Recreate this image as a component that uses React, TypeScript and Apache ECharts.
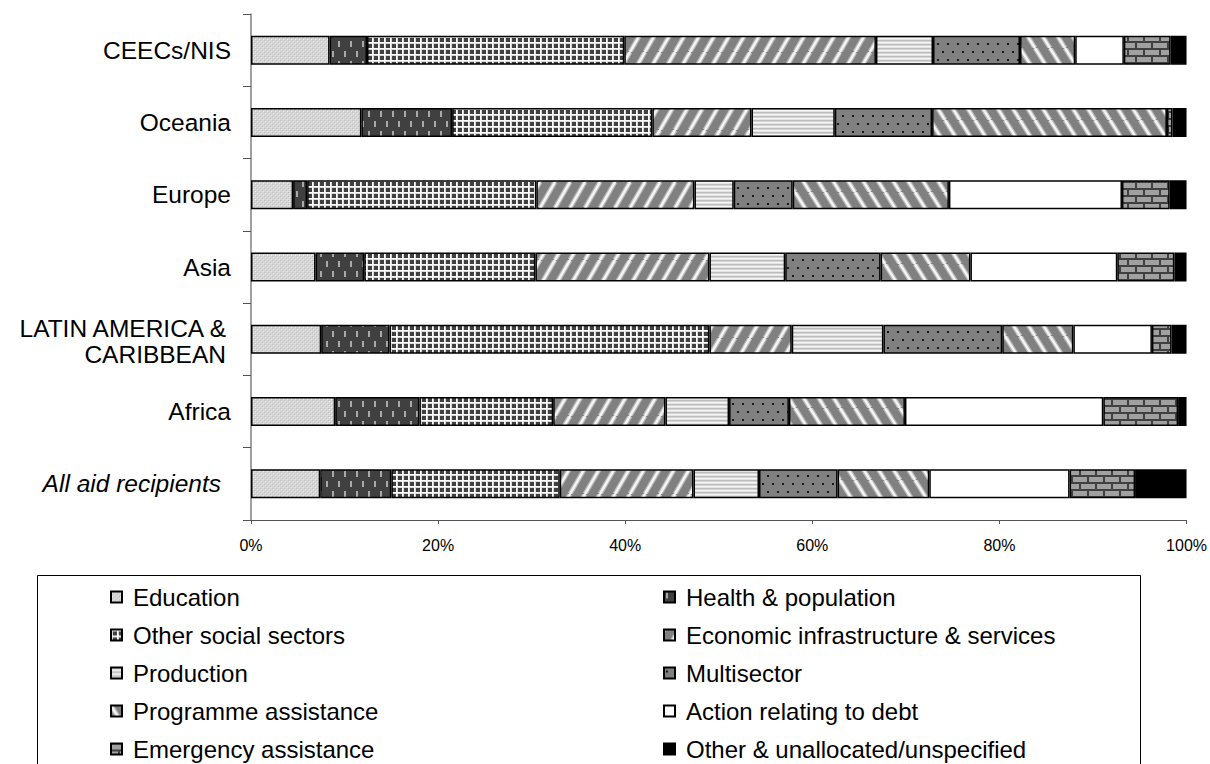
import React, { useEffect, useRef } from "react";
import * as echarts from "echarts";

const regions = [
  "CEECs/NIS",
  "Oceania",
  "Europe",
  "Asia",
  "LATIN AMERICA &\nCARIBBEAN",
  "Africa",
  "All aid recipients",
];

const education = [8.4, 11.8, 4.5, 6.9, 7.5, 9.0, 7.4];
const health = [4.0, 9.7, 1.5, 5.2, 7.3, 9.0, 7.6];
const otherSocial = [27.5, 21.4, 24.5, 18.3, 34.2, 14.3, 18.0];
const economic = [26.9, 10.6, 16.9, 18.6, 8.8, 12.0, 14.3];
const production = [6.1, 8.9, 4.2, 8.1, 9.8, 6.8, 7.0];
const multisector = [9.3, 10.4, 6.3, 10.2, 12.7, 6.4, 8.4];
const programme = [5.9, 25.1, 16.7, 9.6, 7.6, 12.4, 9.8];
const debt = [5.2, 0, 18.5, 15.7, 8.4, 21.2, 15.0];
const emergency = [5.0, 0.6, 5.1, 6.1, 2.1, 8.0, 7.0];
const otherUnalloc = [1.7, 1.5, 1.8, 1.3, 1.6, 0.9, 5.5];

const xTicks = [0, 20, 40, 60, 80, 100];

const legendCol1 = [
  "Education",
  "Other social sectors",
  "Production",
  "Programme assistance",
  "Emergency assistance",
];
const legendCol2 = [
  "Health & population",
  "Economic infrastructure & services",
  "Multisector",
  "Action relating to debt",
  "Other & unallocated/unspecified",
];

const FONT = "'Liberation Sans', Arial, sans-serif";

function tile(w: number, h: number, draw: (ctx: CanvasRenderingContext2D) => void) {
  const c = document.createElement("canvas");
  c.width = w;
  c.height = h;
  const ctx = c.getContext("2d") as CanvasRenderingContext2D;
  draw(ctx);
  return c;
}

function stripes(w: number, h: number, forward: boolean) {
  return tile(w, h, (ctx) => {
    ctx.fillStyle = "#808080";
    ctx.fillRect(0, 0, w, h);
    const drawLines = (color: string, lw: number) => {
      ctx.strokeStyle = color;
      ctx.lineWidth = lw;
      for (let k = -1; k <= 1; k++) {
        ctx.beginPath();
        if (forward) {
          ctx.moveTo(k * w, h);
          ctx.lineTo(k * w + w, 0);
        } else {
          ctx.moveTo(k * w, 0);
          ctx.lineTo(k * w + w, h);
        }
        ctx.stroke();
      }
    };
    drawLines("#b8b8b8", 5);
    drawLines("#f4f4f4", 2.5);
  });
}

function makePatterns() {
  const edu = tile(4, 4, (ctx) => {
    ctx.fillStyle = "#d6d6d6";
    ctx.fillRect(0, 0, 4, 4);
    ctx.fillStyle = "#bababa";
    ctx.fillRect(0, 0, 1, 1);
    ctx.fillRect(2, 2, 1, 1);
    ctx.fillStyle = "#ececec";
    ctx.fillRect(1, 1, 1, 1);
    ctx.fillRect(3, 3, 1, 1);
  });
  const hea = tile(12, 20, (ctx) => {
    ctx.fillStyle = "#404040";
    ctx.fillRect(0, 0, 12, 20);
    ctx.fillStyle = "#a8a8a8";
    ctx.fillRect(2, 1, 2, 6);
    ctx.fillRect(8, 11, 2, 6);
  });
  const oss = tile(6, 6, (ctx) => {
    ctx.fillStyle = "#404040";
    ctx.fillRect(0, 0, 6, 6);
    ctx.fillStyle = "#d8d8d8";
    ctx.fillRect(0, 1, 6, 1);
    ctx.fillRect(1, 0, 1, 6);
    ctx.fillStyle = "#ffffff";
    ctx.fillRect(0, 0, 6, 1);
    ctx.fillRect(0, 0, 1, 6);
  });
  const eco = stripes(15, 26, true);
  const pro = tile(4, 4, (ctx) => {
    ctx.fillStyle = "#bdbdbd";
    ctx.fillRect(0, 0, 4, 1);
    ctx.fillStyle = "#d2d2d2";
    ctx.fillRect(0, 1, 4, 1);
    ctx.fillStyle = "#f6f6f6";
    ctx.fillRect(0, 2, 4, 1);
    ctx.fillStyle = "#e4e4e4";
    ctx.fillRect(0, 3, 4, 1);
  });
  const mul = tile(10, 16, (ctx) => {
    ctx.fillStyle = "#808080";
    ctx.fillRect(0, 0, 10, 16);
    ctx.fillStyle = "#1a1a1a";
    ctx.fillRect(2, 3, 2, 2);
    ctx.fillRect(7, 11, 2, 2);
  });
  const prg = stripes(15, 24, false);
  const emg = tile(16, 14, (ctx) => {
    ctx.fillStyle = "#404040";
    ctx.fillRect(0, 0, 16, 14);
    ctx.fillStyle = "#a0a0a0";
    ctx.fillRect(1, 1, 14, 5);
    ctx.fillRect(-7, 8, 14, 5);
    ctx.fillRect(9, 8, 14, 5);
  });
  const pat = (c: HTMLCanvasElement) => ({ image: c, repeat: "repeat" });
  return {
    edu: pat(edu),
    hea: pat(hea),
    oss: pat(oss),
    eco: pat(eco),
    pro: pat(pro),
    mul: pat(mul),
    prg: pat(prg),
    emg: pat(emg),
  };
}

export default function App() {
  const ref = useRef<HTMLDivElement>(null);

  useEffect(() => {
    if (!ref.current) return;
    const chart = echarts.init(ref.current, null, { renderer: "svg" });
    const p = makePatterns();

    const sectors: { name: string; values: number[]; color: any }[] = [
      { name: "Education", values: education, color: p.edu },
      { name: "Health & population", values: health, color: p.hea },
      { name: "Other social sectors", values: otherSocial, color: p.oss },
      { name: "Economic infrastructure & services", values: economic, color: p.eco },
      { name: "Production", values: production, color: p.pro },
      { name: "Multisector", values: multisector, color: p.mul },
      { name: "Programme assistance", values: programme, color: p.prg },
      { name: "Action relating to debt", values: debt, color: "#ffffff" },
      { name: "Emergency assistance", values: emergency, color: p.emg },
      { name: "Other & unallocated/unspecified", values: otherUnalloc, color: "#000000" },
    ];

    const legendBase = {
      orient: "vertical" as const,
      top: 585,
      padding: 0,
      height: 178,
      itemWidth: 11,
      itemHeight: 11,
      itemGap: 14,
      icon: "rect",
      selectedMode: false,
      textStyle: {
        fontFamily: FONT,
        fontSize: 24,
        lineHeight: 24,
        color: "#000",
        padding: [0, 0, 0, 6],
      },
    };

    const labelFont = { fontFamily: FONT, fontSize: 24.5, color: "#000" };

    chart.setOption({
      animation: false,
      backgroundColor: "#ffffff",
      grid: { left: 251, right: 23, top: 14, bottom: 244, containLabel: false },
      xAxis: {
        type: "value",
        min: xTicks[0],
        max: xTicks[xTicks.length - 1],
        interval: xTicks[1] - xTicks[0],
        axisLine: { show: true, lineStyle: { color: "#555555", width: 1 } },
        axisTick: { show: true, length: 4, lineStyle: { color: "#555555" } },
        splitLine: { show: false },
        axisLabel: {
          formatter: "{value}%",
          fontFamily: FONT,
          fontSize: 16,
          color: "#000",
          margin: 17,
        },
      },
      yAxis: {
        type: "category",
        inverse: true,
        data: regions,
        axisLine: { show: true, lineStyle: { color: "#808080", width: 1.5 } },
        axisTick: { show: true, length: 8, lineStyle: { color: "#555555" } },
        axisLabel: {
          ...labelFont,
          lineHeight: 30,
          margin: 20,
          formatter: (v: string) => {
            if (v === "All aid recipients") return `{it|${v}}`;
            if (v.indexOf("\n") >= 0) {
              const parts = v.split("\n");
              return `{l1|${parts[0]}}\n{l2|${parts[1]}}`;
            }
            return v;
          },
          rich: {
            it: { ...labelFont, fontStyle: "italic", padding: [0, 10, 0, 0] },
            l1: { ...labelFont, lineHeight: 30, padding: [9, 5, 0, 0] },
            l2: { ...labelFont, lineHeight: 30, padding: [0, 5, 0, 0] },
          },
        },
      },
      legend: [
        { ...legendBase, left: 110, data: legendCol1 },
        { ...legendBase, left: 663, data: legendCol2 },
      ],
      graphic: [
        {
          type: "rect",
          silent: true,
          z: -10,
          shape: { x: 37.5, y: 575.5, width: 1103, height: 300 },
          style: { fill: "none", stroke: "#000", lineWidth: 1 },
        },
      ],
      series: sectors.map((s) => ({
        name: s.name,
        type: "bar",
        stack: "total",
        barWidth: 29,
        data: s.values,
        itemStyle: { color: s.color, borderColor: "#000", borderWidth: 1.5 },
        emphasis: { disabled: true },
      })),
    });

    return () => chart.dispose();
  }, []);

  return (
    <div
      ref={ref}
      style={{ position: "absolute", left: 0, top: 0, width: 1210, height: 764 }}
    />
  );
}
